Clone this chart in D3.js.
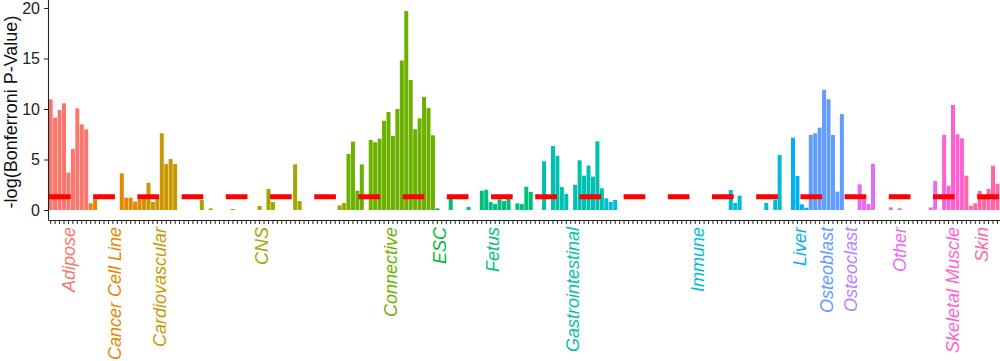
<!DOCTYPE html>
<html><head><meta charset="utf-8">
<script src="https://cdn.jsdelivr.net/npm/d3@7"></script>
<style>
html,body{margin:0;padding:0;background:#fff;}
svg{display:block;font-family:"Liberation Sans",Arial,sans-serif;}
</style></head>
<body>
<svg id="chart" width="1000" height="361"></svg>
<script>
// Tissue categories (x-axis groups), their first slot index and colours
const categories = ["Adipose","Cancer Cell Line","Cardiovascular","CNS","Connective","ESC","Fetus",
  "Gastrointestinal","Immune","Liver","Osteoblast","Osteoclast","Other","Skeletal Muscle","Skin"];
const categoryStart = [0, 9, 21, 29, 67, 87, 89, 111, 125, 167, 171, 179, 182, 201, 206];
const categoryColors = ["#F8766D","#E58700","#C99800","#A3A500","#6BB100","#00BA38","#00BF7D",
  "#00C0AF","#00BCD8","#00B0F6","#619CFF","#B983FF","#E76BF3","#FD61D1","#FF67A4"];

// -log(Bonferroni P-value) per tissue slot (0 = no bar)
const values = [
  10.96, 9.14, 9.9, 10.56, 3.7, 6.04, 10.07, 8.48, 7.99,            // 0-8 Adipose
  0.66, 1.06, 0, 0, 0, 0, 0, 3.63, 1.22, 1.22, 0.83, 1.05,          // 9-20 Cancer Cell Line
  1.3, 2.7, 0.8, 1.2, 7.6, 4.55, 5.05, 4.55,                        // 21-28 Cardiovascular
  0, 0, 0, 0, 0, 1.0, 0, 0.15, 0, 0, 0, 0, 0.1, 0, 0, 0, 0, 0, 0.4, 0, // 29-48 CNS
  2.08, 0.79, 0, 0, 0, 0, 4.52, 0.89, 0, 0, 0, 0, 0, 0, 0, 0, 0.46, 0.69, // 49-66 CNS
  5.54, 6.77, 1.91, 4.52, 0, 6.93, 6.7, 7.06, 8.84, 9.7,            // 67-76 Connective
  7.33, 10.0, 14.8, 19.7, 12.87, 8.0, 9.08, 11.2, 10.1, 7.4,        // 77-86 Connective
  0.16, 0,                                                          // 87-88 ESC
  0, 1.15, 0, 0, 0, 0.3, 0, 0, 1.9, 2.0, 0.78, 0.6, 1.05, 0.9, 1.1, 0, // 89-104 Fetus
  0.66, 0.58, 2.3, 1.8, 0, 0,                                       // 105-110 Fetus
  4.82, 0, 6.34, 5.38, 2.27, 1.6, 0, 2.5, 4.92, 3.4, 4.4, 3.3, 6.8, 2.15, // 111-124 Gastrointestinal
  1.16, 0.8, 0.99, 0, 0, 0, 0, 0, 0, 0, 0, 0, 0, 0, 0, 0, 0,       // 125-141 Immune
  0, 0, 0, 0, 0, 0, 0, 0, 0, 0, 0, 1.98, 0.7, 1.42, 0, 0, 0, 0, 0, // 142-160 Immune
  0.7, 0, 1.03, 5.45, 0, 0,                                         // 161-166 Immune
  7.16, 3.37, 0.56, 0.23,                                           // 167-170 Liver
  7.43, 7.6, 8.15, 11.9, 10.96, 7.43, 1.82, 9.5,                    // 171-178 Osteoblast
  0, 0, 0,                                                          // 179-181 Osteoclast
  2.54, 1.06, 0.6, 4.58, 0, 0, 0, 0.26, 0, 0.17, 0, 0, 0, 0, 0, 0, 0.25, 2.87, 0, // 182-200 Other
  7.43, 2.4, 10.4, 7.5, 7.1,                                        // 201-205 Skeletal Muscle
  3.4, 0.43, 0.66, 1.88, 1.4, 2.08, 4.39, 2.6                       // 206-213 Skin
];
const yTicks = [0, 5, 10, 15, 20];
const threshold = -Math.log10(0.05);
const yTitle = "-log(Bonferroni P-Value)";

const N = values.length;
const catOf = i => { let c = 0; for (let k = 0; k < categoryStart.length; k++) if (i >= categoryStart[k]) c = k; return c; };

const svg = d3.select("#chart");
const left = 48, axisY = 220;
const x = d3.scaleBand().domain(d3.range(N)).range([left, left + 4.445 * (N + 0.2)])
  .paddingInner(0.1).paddingOuter(0.15);
const y = d3.scaleLinear().domain([0, 20]).range([210, 8]);

// bars
svg.append("g").selectAll("rect")
  .data(values.map((v, i) => ({i, v})).filter(d => d.v > 0))
  .join("rect")
  .attr("x", d => x(d.i))
  .attr("width", x.bandwidth())
  .attr("y", d => y(d.v))
  .attr("height", d => y(0) - y(d.v))
  .attr("fill", d => categoryColors[catOf(d.i)]);

// threshold dashed line
svg.append("line")
  .attr("x1", 49).attr("x2", 1000)
  .attr("y1", y(threshold)).attr("y2", y(threshold))
  .attr("stroke", "#FF0000").attr("stroke-width", 5)
  .attr("stroke-dasharray", "21.7 22.5");

// y axis
const yAxis = svg.append("g").attr("transform", `translate(${left},0)`)
  .call(d3.axisLeft(y).tickValues(yTicks).tickSize(4).tickSizeOuter(0));
yAxis.select(".domain").remove();
yAxis.selectAll(".tick line").attr("stroke", "#222");
yAxis.selectAll(".tick text").attr("font-size", 16).attr("fill", "#222")
  .attr("font-family", "Liberation Sans, Arial, sans-serif").attr("x", -8);
svg.append("line").attr("x1", left + 0.5).attr("x2", left + 0.5).attr("y1", 0).attr("y2", axisY)
  .attr("stroke", "#222").attr("stroke-width", 1.1);

// x axis
const xAxis = svg.append("g").attr("transform", `translate(0,${axisY})`)
  .call(d3.axisBottom(x).tickSize(4).tickSizeOuter(0).tickFormat(""));
xAxis.select(".domain").attr("stroke", "#222").attr("stroke-width", 1.1);
xAxis.selectAll(".tick line").attr("stroke", "#222");

// category labels
categories.forEach((c, k) => {
  const s = categoryStart[k];
  const e = (k + 1 < categoryStart.length ? categoryStart[k + 1] : N) - 1;
  const cx = (x(s) + x(e)) / 2 + x.bandwidth() / 2;
  svg.append("text")
    .attr("transform", `translate(${cx},227) rotate(-90)`)
    .attr("text-anchor", "end").attr("dy", "0.35em")
    .attr("font-size", 18).attr("font-style", "italic")
    .attr("fill", categoryColors[k]).text(c);
});

// y title
svg.append("text")
  .attr("transform", "translate(17,112) rotate(-90)")
  .attr("text-anchor", "middle").attr("font-size", 18).attr("fill", "#111")
  .text(yTitle);
</script>
</body></html>
